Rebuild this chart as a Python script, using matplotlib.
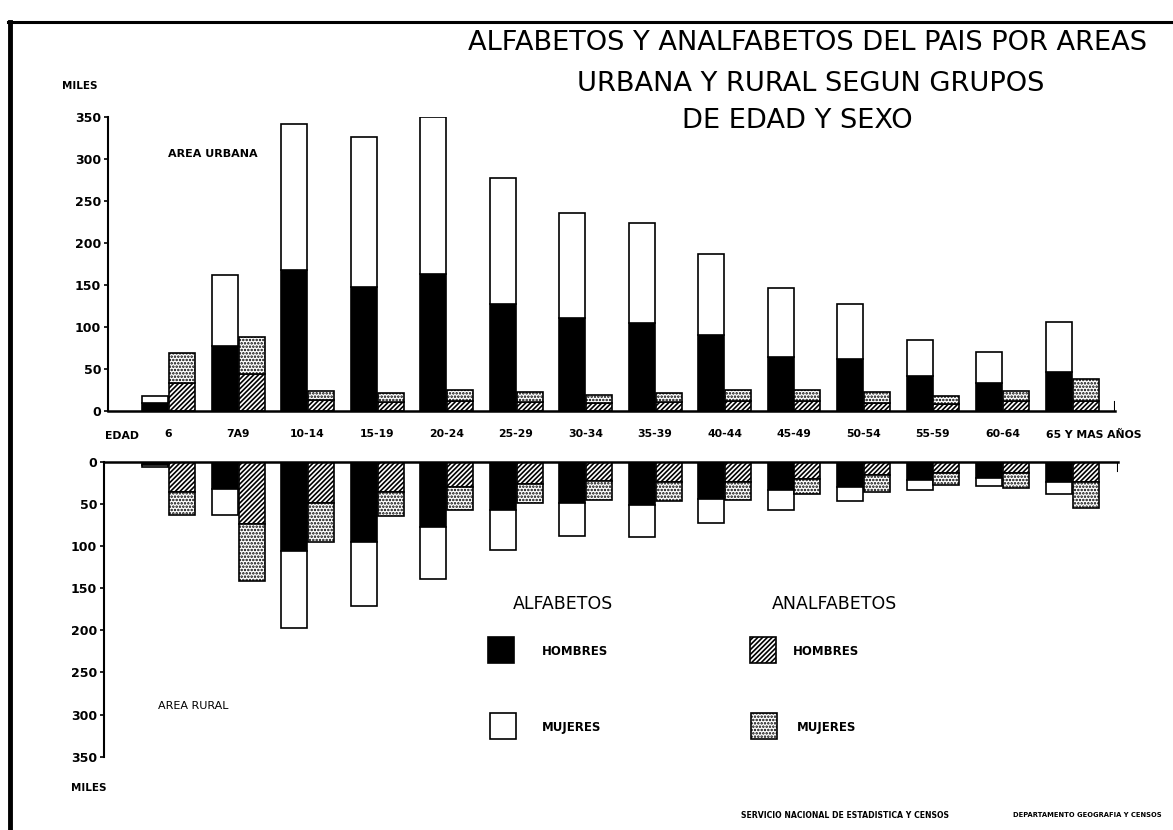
import numpy as np
import matplotlib
matplotlib.use("Agg")
import matplotlib.pyplot as plt
from matplotlib import font_manager as fm
from matplotlib.lines import Line2D
from matplotlib.patches import Rectangle

# ---------------- data (miles de personas) ----------------
grupos = ["6", "7A9", "10-14", "15-19", "20-24", "25-29", "30-34", "35-39",
          "40-44", "45-49", "50-54", "55-59", "60-64", "65 Y MAS AÑOS"]

# Area urbana
urb_alf_hombres = [9, 77, 167, 147, 163, 127, 110, 104, 90, 64, 62, 41, 33, 46]
urb_alf_mujeres = [9, 84, 174, 179, 187, 150, 125, 120, 97, 82, 65, 43, 37, 59]
urb_anal_hombres = [33, 44, 13, 10, 12, 10, 9, 10, 12, 11, 9, 8, 11, 12]
urb_anal_mujeres = [36, 44, 11, 11, 13, 12, 10, 11, 13, 14, 13, 10, 12, 26]

# Area rural
rur_alf_hombres = [4, 32, 106, 95, 78, 57, 49, 51, 44, 33, 30, 22, 19, 24]
rur_alf_mujeres = [2, 31, 91, 76, 61, 48, 39, 38, 29, 24, 17, 12, 10, 14]
rur_anal_hombres = [36, 74, 49, 36, 30, 26, 23, 24, 24, 20, 16, 14, 14, 24]
rur_anal_mujeres = [27, 68, 46, 29, 27, 23, 23, 23, 22, 18, 20, 14, 17, 31]

yticks = [0, 50, 100, 150, 200, 250, 300, 350]

# ---------------- fonts ----------------
def has_font(name):
    try:
        fm.findfont(fm.FontProperties(family=name), fallback_to_default=False)
        return True
    except Exception:
        return False

NARROW = "Liberation Sans Narrow" if has_font("Liberation Sans Narrow") else "DejaVu Sans"
nscale = 1.0 if NARROW == "Liberation Sans Narrow" else 0.78
plt.rcParams["font.family"] = ["DejaVu Sans"]
plt.rcParams["hatch.linewidth"] = 1.2

HATCH_H = "///////"
HATCH_M = "....."

W, H = 1173, 830
fig = plt.figure(figsize=(W / 100, H / 100), dpi=100)
fig.patch.set_facecolor("white")


def rect(l, r, top, bot):
    return [l / W, 1 - bot / H, (r - l) / W, (bot - top) / H]


def ftext(x, y, s, **kw):
    return fig.text(x / W, 1 - y / H, s, **kw)


PITCH = 69.5      # px per age group
X0 = 155.0        # px centre of first bar
ax_u = fig.add_axes(rect(108, 1115, 116.7, 410.7))
ax_r = fig.add_axes(rect(104, 1118, 461.7, 756.7))

n = len(grupos)
idx = np.arange(n)
bw = 26 / PITCH
off = 27 / PITCH

bar_kw = dict(edgecolor="black", linewidth=1.2)

# ---- urbana ----
ax_u.bar(idx, urb_alf_hombres, bw, color="black", **bar_kw)
ax_u.bar(idx, urb_alf_mujeres, bw, bottom=urb_alf_hombres, color="white", **bar_kw)
ax_u.bar(idx + off, urb_anal_hombres, bw, color="white", hatch=HATCH_H, **bar_kw)
ax_u.bar(idx + off, urb_anal_mujeres, bw, bottom=urb_anal_hombres, color="white",
         hatch=HATCH_M, **bar_kw)

# ---- rural ----
ax_r.bar(idx, rur_alf_hombres, bw, color="black", **bar_kw)
ax_r.bar(idx, rur_alf_mujeres, bw, bottom=rur_alf_hombres, color="white", **bar_kw)
ax_r.bar(idx + off, rur_anal_hombres, bw, color="white", hatch=HATCH_H, **bar_kw)
ax_r.bar(idx + off, rur_anal_mujeres, bw, bottom=rur_anal_hombres, color="white",
         hatch=HATCH_M, **bar_kw)

ax_u.set_xlim((108 - X0) / PITCH, (1115 - X0) / PITCH)
ax_r.set_xlim((104 - X0) / PITCH, (1118 - X0) / PITCH)
ax_u.set_ylim(0, 350)
ax_r.set_ylim(350, 0)

for ax in (ax_u, ax_r):
    ax.set_facecolor("none")
    for s in ax.spines.values():
        s.set_visible(False)
    ax.spines["left"].set_visible(True)
    ax.spines["left"].set_linewidth(1.5)
    ax.set_yticks(yticks)
    ax.set_yticklabels([str(v) for v in yticks], fontsize=9, fontweight="bold")
    ax.tick_params(axis="y", length=3, width=1.2, pad=2)

ax_u.spines["bottom"].set_visible(True)
ax_u.spines["bottom"].set_linewidth(1.8)
ax_r.spines["top"].set_visible(True)
ax_r.spines["top"].set_linewidth(1.8)

# age-group labels (last one starts at its first bar)
ax_u.set_xticks(idx[:-1] + off / 2)
ax_u.set_xticklabels(grupos[:-1], fontsize=10 * nscale, fontweight="bold", family=NARROW)
ax_u.tick_params(axis="x", length=0, pad=13)
ax_u.annotate(grupos[-1], xy=(idx[-1] - bw / 2, 0), xycoords="data",
              xytext=(0, -24), textcoords="offset pixels", ha="left", va="center",
              fontsize=10 * nscale, fontweight="bold", family=NARROW,
              annotation_clip=False)
ax_r.set_xticks([])

# small end ticks on the base lines
ax_u.axvline(ax_u.get_xlim()[1], ymin=0, ymax=0.03, color="black", lw=1.5)
ax_r.axvline(ax_r.get_xlim()[1], ymin=0.97, ymax=1.0, color="black", lw=1.5)

# ---------------- texts ----------------
tkw = dict(family=NARROW, ha="center", va="center",
           fontsize=23 if NARROW != "DejaVu Sans" else 19.6)
ftext(808, 43, "ALFABETOS Y ANALFABETOS DEL PAIS POR AREAS", **tkw)
ftext(811, 84, "URBANA Y RURAL SEGUN GRUPOS", **tkw)
ftext(797, 121, "DE EDAD Y SEXO", **tkw)

ftext(80, 86, "MILES", fontsize=7.5, fontweight="bold", ha="center", va="center")
ftext(89, 788, "MILES", fontsize=7.5, fontweight="bold", ha="center", va="center")
ftext(213, 154, "AREA URBANA", fontsize=8, fontweight="bold", ha="center", va="center")
ftext(193, 706, "AREA RURAL", fontsize=8, ha="center", va="center")
ftext(122, 436, "EDAD", fontsize=10 * nscale, fontweight="bold", family=NARROW,
      ha="center", va="center")

# legend
ftext(563, 604, "ALFABETOS", family=NARROW, fontsize=16 * nscale, ha="center", va="center")
ftext(834, 604, "ANALFABETOS", family=NARROW, fontsize=16 * nscale, ha="center", va="center")

leg = [
    (488, 637, dict(facecolor="black", hatch=None), "HOMBRES", 542, 651),
    (490, 713, dict(facecolor="white", hatch=None), "MUJERES", 542, 727),
    (750, 637, dict(facecolor="white", hatch=HATCH_H), "HOMBRES", 793, 651),
    (751, 713, dict(facecolor="white", hatch=HATCH_M), "MUJERES", 797, 727),
]
for (lx, ly, sty, lab, tx, ty) in leg:
    r = Rectangle((lx / W, 1 - (ly + 26) / H), 26 / W, 26 / H, transform=fig.transFigure,
                  edgecolor="black", linewidth=1.2, **sty)
    fig.add_artist(r)
    ftext(tx, ty, lab, fontsize=8.5, fontweight="bold", ha="left", va="center")

# footer
ftext(845, 815, "SERVICIO NACIONAL DE ESTADISTICA Y CENSOS", fontsize=5.6,
      fontweight="bold", ha="center", va="center")
ftext(1087, 815, "DEPARTAMENTO GEOGRAFIA Y CENSOS", fontsize=4.9,
      fontweight="bold", ha="center", va="center")

# frame lines
fig.add_artist(Line2D([10 / W, 10 / W], [0, 1 - 22 / H], color="black", lw=3.5,
                      transform=fig.transFigure))
fig.add_artist(Line2D([8 / W, 1], [1 - 22 / H, 1 - 22 / H], color="black", lw=2.2,
                      transform=fig.transFigure))

fig.savefig("out.png", dpi=100, facecolor="white")
